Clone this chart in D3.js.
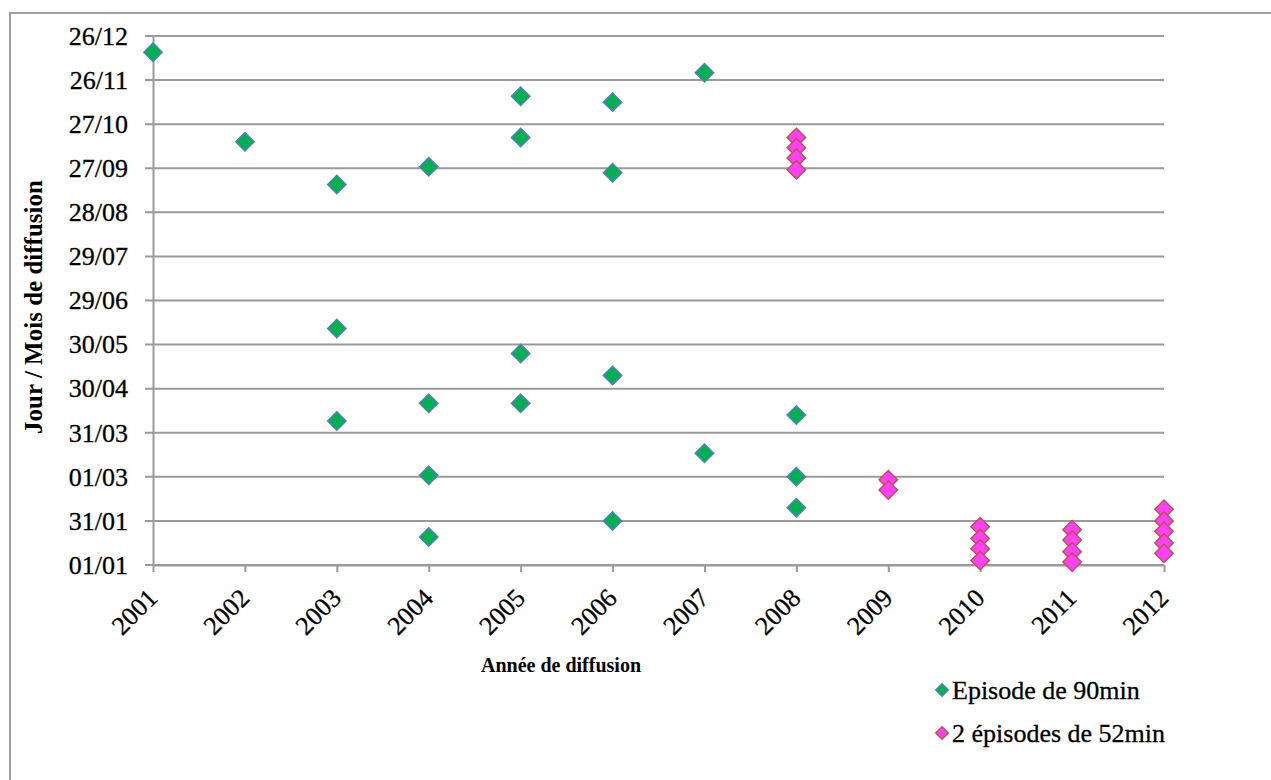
<!DOCTYPE html>
<html lang="fr">
    <head>
        <meta charset="utf-8">
        <title>Diffusion</title>
        <script type="text/javascript" src="https://cdn.jsdelivr.net/npm/d3@7"></script>
        <style type="text/css">
            body { margin: 0; background: #fff; }
            text { font-family: "Times New Roman", "Liberation Serif", serif; fill: #000; }
        </style>
    </head>
    <body>
        <script type="text/javascript">

        // years on the x axis
        var years = [2001, 2002, 2003, 2004, 2005, 2006, 2007, 2008, 2009, 2010, 2011, 2012];

        // y tick positions (days since 01/01) and their labels
        var dayTicks = [0, 30, 60, 90, 120, 150, 180, 210, 240, 270, 300, 330, 360];
        var dayLabels = ["01/01", "31/01", "01/03", "31/03", "30/04", "30/05", "29/06",
                         "29/07", "28/08", "27/09", "27/10", "26/11", "26/12"];

        // Episode de 90min : year / day of year
        var ep90Years = [2001, 2002, 2003, 2003, 2003, 2004, 2004, 2004, 2004,
                         2005, 2005, 2005, 2005, 2006, 2006, 2006, 2006,
                         2007, 2007, 2008, 2008, 2008];
        var ep90Days  = [349, 288, 259, 161, 98, 271, 110, 61, 19,
                         319, 291, 144, 110, 315, 267, 129, 30,
                         335, 76, 102, 60, 39];

        // 2 épisodes de 52min
        var ep52Years = [2008, 2008, 2008, 2008, 2009, 2009,
                         2010, 2010, 2010, 2010, 2011, 2011, 2011, 2011,
                         2012, 2012, 2012, 2012, 2012];
        var ep52Days  = [291, 284, 277, 269, 58, 51,
                         26, 18, 11, 3, 24, 17, 9, 2,
                         38, 30, 23, 15, 8];

        var seriesNames = ["Episode de 90min", "2 épisodes de 52min"];

        var w = 1271;
        var h = 780;
        var serif = '"Times New Roman", "Liberation Serif", serif';

        var svg = d3.select("body")
                    .append("svg")
                    .attr("width", w)
                    .attr("height", h);

        // outer frame
        svg.append("rect")
            .attr("x", 10).attr("y", 13)
            .attr("width", w).attr("height", h)
            .attr("fill", "none")
            .attr("stroke", "#a0a0a0")
            .attr("stroke-width", 2);

        var x = d3.scaleLinear().domain([2001, 2012]).range([153, 1164]);
        var y = d3.scaleLinear().domain([0, 360]).range([565, 36]);

        // grid lines
        svg.append("g")
            .selectAll("line")
            .data(dayTicks)
            .enter()
            .append("line")
            .attr("x1", 145)
            .attr("x2", x(2012))
            .attr("y1", function(d) { return y(d); })
            .attr("y2", function(d) { return y(d); })
            .attr("stroke", "#9a9a9a")
            .attr("stroke-width", 2);

        // y axis
        var yAxis = d3.axisLeft(y)
            .tickValues(dayTicks)
            .tickFormat(function(d, i) { return dayLabels[i]; })
            .tickSize(0)
            .tickPadding(25);

        var gy = svg.append("g")
            .attr("transform", "translate(" + x(2001) + ",0)")
            .call(yAxis);
        gy.attr("font-family", serif);
        gy.select(".domain").attr("stroke", "#9a9a9a").attr("stroke-width", 2);
        gy.selectAll("text")
            .style("font-family", serif)
            .style("font-size", "26px")
            .attr("stroke", "#000")
            .attr("stroke-width", 0.3);

        // x axis
        var xAxis = d3.axisBottom(x)
            .tickValues(years)
            .tickFormat(d3.format("d"))
            .tickSize(7)
            .tickSizeOuter(0);

        var gx = svg.append("g")
            .attr("transform", "translate(0," + y(0) + ")")
            .call(xAxis);
        gx.attr("font-family", serif);
        gx.select(".domain").attr("stroke", "#9a9a9a").attr("stroke-width", 2);
        gx.selectAll(".tick line").attr("stroke", "#9a9a9a").attr("stroke-width", 2);
        gx.selectAll("text")
            .style("font-family", serif)
            .style("font-size", "26px")
            .attr("stroke", "#000")
            .attr("stroke-width", 0.3)
            .attr("text-anchor", "end")
            .attr("dy", "0.35em")
            .attr("y", 0)
            .attr("transform", "translate(-1,28) rotate(-45)");

        // axis titles
        svg.append("text")
            .attr("transform", "translate(42,307) rotate(-90)")
            .attr("text-anchor", "middle")
            .style("font-size", "25px")
            .style("font-weight", "bold")
            .text("Jour / Mois de diffusion");

        svg.append("text")
            .attr("x", 561)
            .attr("y", 672)
            .attr("text-anchor", "middle")
            .style("font-size", "20px")
            .style("font-weight", "bold")
            .text("Année de diffusion");

        var diamond = d3.symbol().type(d3.symbolDiamond2).size(215);

        function drawSeries(xs, ys, fill, stroke) {
            svg.append("g")
                .selectAll("path")
                .data(xs.map(function(v, i) { return [v, ys[i]]; }))
                .enter()
                .append("path")
                .attr("d", diamond)
                .attr("transform", function(d) { return "translate(" + x(d[0]) + "," + y(d[1]) + ")"; })
                .attr("fill", fill)
                .attr("stroke", stroke)
                .attr("stroke-width", 1.5);
        }

        var fills = ["#00b050", "#ff40ff"];
        var strokes = ["#4f81bd", "#c0504d"];

        drawSeries(ep90Years, ep90Days, fills[0], strokes[0]);
        drawSeries(ep52Years, ep52Days, fills[1], strokes[1]);

        // legend
        var legend = svg.append("g");
        seriesNames.forEach(function(name, i) {
            var ly = 690 + i * 43;
            legend.append("path")
                .attr("d", d3.symbol().type(d3.symbolDiamond2).size(100))
                .attr("transform", "translate(942," + ly + ")")
                .attr("fill", fills[i])
                .attr("stroke", strokes[i])
                .attr("stroke-width", 1.5);
            legend.append("text")
                .attr("x", 952)
                .attr("y", ly)
                .attr("dy", "0.35em")
                .attr("stroke", "#000")
                .attr("stroke-width", 0.3)
                .style("font-size", "26px")
                .text(name);
        });

        </script>
    </body>
</html>
